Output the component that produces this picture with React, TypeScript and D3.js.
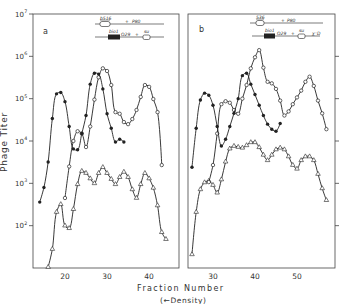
import * as d3 from 'd3';

// panel a
const fracAFilled = [14, 15, 16, 17, 18, 19, 20, 21, 22, 23, 24, 25, 26, 27, 28, 29, 30, 31, 32, 33, 34];
const titerAFilled = [360, 800, 3200, 34000, 130000, 140000, 85000, 22000, 6500, 6200, 15000, 40000, 220000, 400000, 380000, 170000, 44000, 20000, 9500, 11000, 9500];

const fracAOpen = [20, 21, 22, 23, 24, 25, 26, 27, 28, 29, 30, 31, 32, 33, 34, 35, 36, 37, 38, 39, 40, 41, 42, 43];
const titerAOpen = [450, 2500, 10000, 17000, 15000, 7200, 22000, 95000, 320000, 520000, 450000, 210000, 48000, 44000, 28000, 25000, 33000, 54000, 110000, 210000, 190000, 98000, 48000, 2700];

const fracATri = [16, 17, 18, 19, 20, 21, 22, 23, 24, 25, 26, 27, 28, 29, 30, 31, 32, 33, 34, 35, 36, 37, 38, 39, 40, 41, 42, 43, 44];
const titerATri = [10.5, 28, 210, 320, 100, 87, 245, 950, 1950, 1750, 1300, 1000, 1740, 2400, 1740, 1260, 950, 1400, 1860, 1400, 720, 450, 950, 1740, 1300, 780, 300, 70, 48];

// panel b
const fracBFilled = [25, 26, 27, 28, 29, 30, 31, 32, 33, 34, 35, 36, 37, 38, 39, 40, 41, 42, 43, 44, 45, 46];
const titerBFilled = [2400, 20000, 93000, 135000, 120000, 70000, 22000, 7600, 11000, 22000, 45000, 100000, 350000, 400000, 220000, 125000, 70000, 40000, 25000, 19000, 17000, 26000];

const fracBOpen = [29, 30, 31, 32, 33, 34, 35, 36, 37, 38, 39, 40, 41, 42, 43, 44, 45, 46, 47, 48, 49, 50, 51, 52, 53, 54, 55, 56, 57];
const titerBOpen = [1070, 2700, 15000, 74000, 87000, 80000, 54000, 44000, 100000, 210000, 520000, 950000, 1400000, 540000, 250000, 230000, 170000, 90000, 40000, 50000, 74000, 107000, 155000, 250000, 330000, 200000, 90000, 45000, 19000];

const fracBTri = [25, 26, 27, 28, 29, 30, 31, 32, 33, 34, 35, 36, 37, 38, 39, 40, 41, 42, 43, 44, 45, 46, 47, 48, 49, 50, 51, 52, 53, 54, 55, 56, 57];
const titerBTri = [21, 210, 720, 1050, 1140, 910, 600, 1230, 3240, 6600, 7600, 7200, 6900, 7900, 9300, 9300, 7100, 4700, 3500, 4700, 6300, 6900, 6300, 4300, 2700, 2200, 3500, 4300, 4300, 3500, 1660, 760, 400];

const yTicks = [100, 1000, 10000, 100000, 1000000, 10000000];
const xTicksA = [20, 30, 40];
const xTicksB = [30, 40, 50];

const W = 340;
const H = 304;
const top = 14;
const bottom = 268;
const font = 'DejaVu Sans, sans-serif';
const ink = '#222';

const y = d3.scaleLog().domain([10, 1e7]).range([bottom, top]);
const xA = d3.scaleLinear().domain([12.4, 47.1]).range([33, 179]);
const xB = d3.scaleLinear().domain([24.05, 59.05]).range([188, 335]);

const line = (xs, ys, x) =>
  d3.line().curve(d3.curveCatmullRom.alpha(0.5))(xs.map((f, i) => [x(f), y(ys[i])]));

const tri = d3.symbol().type(d3.symbolTriangle).size(9);

function Series({ xs, ys, x, kind }) {
  return (
    <g>
      <path d={line(xs, ys, x)} fill="none" stroke={ink} strokeWidth={0.9} />
      {xs.map((f, i) => {
        const cx = x(f);
        const cy = y(ys[i]);
        if (kind === 'filled') return <circle key={i} cx={cx} cy={cy} r={1.7} fill={ink} />;
        if (kind === 'open')
          return <circle key={i} cx={cx} cy={cy} r={1.7} fill="#fff" stroke={ink} strokeWidth={0.7} />;
        return (
          <path key={i} d={tri()} transform={`translate(${cx},${cy})`} fill="#fff" stroke={ink} strokeWidth={0.6} />
        );
      })}
    </g>
  );
}

function XAxis({ x, ticks }) {
  return (
    <g>
      {ticks.map((t) => (
        <text key={t} x={x(t)} y={bottom + 11} textAnchor="middle" fontSize={7.5} fontFamily={font} fill="#333">
          {t}
        </text>
      ))}
    </g>
  );
}

function GeneMapA() {
  return (
    <g fontFamily={font} fontSize={4.5} fontStyle="italic" fill="#333" stroke="none">
      <line x1={95} x2={164} y1={24} y2={24} stroke={ink} strokeWidth={0.6} />
      <rect x={100} y={21.5} width={10} height={5} rx={2} fill="#fff" stroke={ink} strokeWidth={0.6} />
      <text x={100} y={19.5}>b516</text>
      <line x1={100} x2={110} y1={20.2} y2={20.2} stroke={ink} strokeWidth={0.4} />
      <text x={125} y={23}>+</text>
      <text x={132} y={23}>P80</text>
      <line x1={95} x2={164} y1={37} y2={37} stroke={ink} strokeWidth={0.6} />
      <rect x={108} y={34.5} width={12} height={5} fill={ink} />
      <text x={109} y={33}>bio1</text>
      <text x={121} y={36.3}>O29</text>
      <text x={135} y={36.3}>+</text>
      <rect x={143} y={35} width={7} height={4.5} rx={1.5} fill="#fff" stroke={ink} strokeWidth={0.6} />
      <text x={144} y={33}>su</text>
    </g>
  );
}

function GeneMapB() {
  return (
    <g fontFamily={font} fontSize={4.5} fontStyle="italic" fill="#333" stroke="none">
      <line x1={250} x2={323} y1={23} y2={23} stroke={ink} strokeWidth={0.6} />
      <rect x={256} y={20.5} width={8} height={5} rx={2} fill="#fff" stroke={ink} strokeWidth={0.6} />
      <text x={256} y={18.5}>536</text>
      <line x1={256} x2={264} y1={19.2} y2={19.2} stroke={ink} strokeWidth={0.4} />
      <text x={281} y={22}>+</text>
      <text x={287} y={22}>P80</text>
      <line x1={252} x2={320} y1={36} y2={36} stroke={ink} strokeWidth={0.6} />
      <rect x={264} y={33.5} width={11} height={5} fill={ink} />
      <text x={265} y={32}>bio1</text>
      <text x={277} y={35.3}>O29</text>
      <text x={291} y={35.3}>+</text>
      <rect x={298} y={34} width={7} height={4.5} rx={1.5} fill="#fff" stroke={ink} strokeWidth={0.6} />
      <text x={299} y={32}>su</text>
      <text x={312} y={35.3}>χ⁺D</text>
    </g>
  );
}

export default function App() {
  return (
    <svg width={W} height={H} style={{ position: 'absolute', left: 0, top: 0, background: '#fff' }}>
      {/* frames */}
      <rect x={33} y={top} width={179 - 33} height={bottom - top} fill="none" stroke="#444" strokeWidth={0.8} />
      <rect x={188} y={top} width={335 - 188} height={bottom - top} fill="none" stroke="#444" strokeWidth={0.8} />

      {/* y axis panel a */}
      {yTicks.map((t) => {
        const e = Math.round(Math.log10(t));
        return (
          <g key={t}>
            <line x1={29} x2={33} y1={y(t)} y2={y(t)} stroke="#444" strokeWidth={0.8} />
            <text x={24} y={y(t) + 2.5} textAnchor="end" fontSize={7} fontFamily={font} fill="#333">
              10
            </text>
            <text x={24.3} y={y(t) - 1} fontSize={4.8} fontFamily={font} fill="#333">
              {e}
            </text>
          </g>
        );
      })}
      {/* right ticks panel b */}
      {yTicks.slice(0, 5).map((t) => (
        <line key={t} x1={335} x2={339} y1={y(t)} y2={y(t)} stroke="#444" strokeWidth={0.8} />
      ))}

      <text
        transform="translate(7,142) rotate(-90)"
        textAnchor="middle"
        fontSize={9}
        fontFamily={font}
        fill="#333"
        letterSpacing={0.8}
      >
        Phage Titer
      </text>

      <XAxis x={xA} ticks={xTicksA} />
      <XAxis x={xB} ticks={xTicksB} />

      <text x={180} y={291} textAnchor="middle" fontSize={8} fontFamily={font} fill="#333" textLength={86}>
        Fraction  Number
      </text>
      <text x={183} y={303} textAnchor="middle" fontSize={7.5} fontFamily={font} fill="#333" textLength={46}>
        (←Density)
      </text>

      <text x={43} y={34} fontSize={8} fontFamily={font} fill="#333">a</text>
      <text x={199} y={32} fontSize={8} fontFamily={font} fill="#333">b</text>

      <GeneMapA />
      <GeneMapB />

      <Series xs={fracATri} ys={titerATri} x={xA} kind="tri" />
      <Series xs={fracAOpen} ys={titerAOpen} x={xA} kind="open" />
      <Series xs={fracAFilled} ys={titerAFilled} x={xA} kind="filled" />

      <Series xs={fracBTri} ys={titerBTri} x={xB} kind="tri" />
      <Series xs={fracBOpen} ys={titerBOpen} x={xB} kind="open" />
      <Series xs={fracBFilled} ys={titerBFilled} x={xB} kind="filled" />
    </svg>
  );
}
